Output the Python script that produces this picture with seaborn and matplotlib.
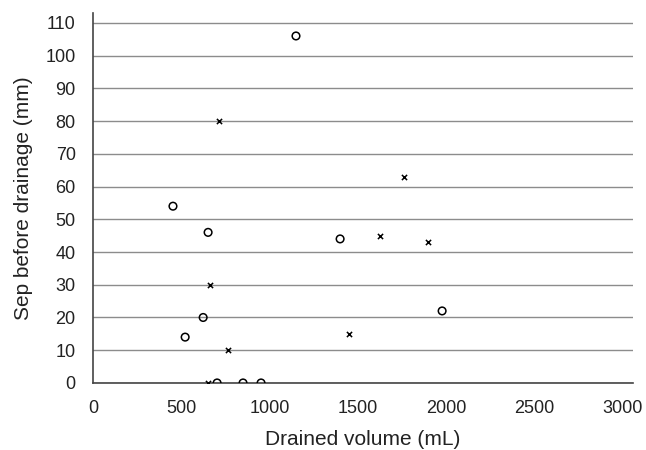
import pandas as pd
import matplotlib.pyplot as plt
import seaborn as sns

# values
circle_x = [1150, 453, 652, 1400, 1978, 624, 522, 703, 850, 952]
circle_y = [106, 54, 46, 44, 22, 20, 14, 0, 0, 0]
cross_x = [715, 1763, 1627, 1899, 663, 1451, 765, 652]
cross_y = [80, 63, 45, 43, 30, 15, 10, 0]

data = pd.DataFrame({
    'Drained': circle_x + cross_x,
    'Sep': circle_y + cross_y,
    'Group': ['circle'] * len(circle_x) + ['cross'] * len(cross_x),
})

sns.set_style('white')
plt.rcParams['font.family'] = ['Liberation Sans', 'DejaVu Sans']

fig = plt.figure(figsize=(6.46, 4.5), dpi=100)
ax = fig.add_axes([0.144, 0.149, 0.836, 0.822])

ax.yaxis.grid(True, color='#8c8c8c', linewidth=1.0)
ax.set_axisbelow(True)

sns.scatterplot(data=data[data['Group'] == 'circle'], x='Drained', y='Sep',
                marker='o', s=30, facecolors='none', edgecolor='black',
                linewidth=1.1, ax=ax, zorder=3)
sns.scatterplot(data=data[data['Group'] == 'cross'], x='Drained', y='Sep',
                marker='x', s=14, color='black', linewidth=1.1, ax=ax, zorder=3)

ax.set_xlim(0, 3060)
ax.set_ylim(0, 113)
ax.set_xticks(range(0, 3001, 500))
ax.set_yticks(range(0, 111, 10))
for side in ['top', 'right']:
    ax.spines[side].set_visible(False)
for side in ['left', 'bottom']:
    ax.spines[side].set_color('#444444')
    ax.spines[side].set_linewidth(1.2)
ax.spines['bottom'].set_zorder(2.5)
ax.tick_params(axis='both', direction='out', length=5, width=1, pad=7.5,
               color='#444444', labelsize=13, labelcolor='#222222')
ax.set_xlabel('Drained volume (mL)', fontsize=15, color='#222222', labelpad=9)
ax.set_ylabel('Sep before drainage (mm)', fontsize=15, color='#222222', labelpad=9)

fig.savefig('out.png', dpi=100)
